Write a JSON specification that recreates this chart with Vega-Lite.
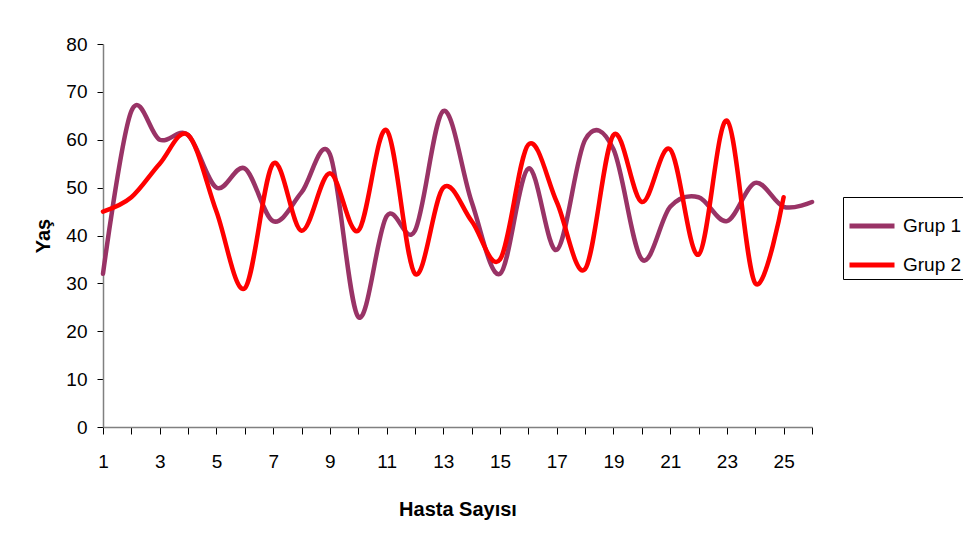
{
  "$schema": "https://vega.github.io/schema/vega-lite/v6.json",
  "autosize": {"type": "none"},
  "padding": {"left": 103, "top": 44, "right": 151, "bottom": 124},
  "width": 709,
  "height": 383,
  "background": "white",
  "data": {
    "values": [
      {"n": 1, "grup": "Grup 1", "yas": 32},
      {"n": 2, "grup": "Grup 1", "yas": 66},
      {"n": 3, "grup": "Grup 1", "yas": 60},
      {"n": 4, "grup": "Grup 1", "yas": 61},
      {"n": 5, "grup": "Grup 1", "yas": 50},
      {"n": 6, "grup": "Grup 1", "yas": 54},
      {"n": 7, "grup": "Grup 1", "yas": 43},
      {"n": 8, "grup": "Grup 1", "yas": 49},
      {"n": 9, "grup": "Grup 1", "yas": 57},
      {"n": 10, "grup": "Grup 1", "yas": 23},
      {"n": 11, "grup": "Grup 1", "yas": 44},
      {"n": 12, "grup": "Grup 1", "yas": 41},
      {"n": 13, "grup": "Grup 1", "yas": 66},
      {"n": 14, "grup": "Grup 1", "yas": 47},
      {"n": 15, "grup": "Grup 1", "yas": 32},
      {"n": 16, "grup": "Grup 1", "yas": 54},
      {"n": 17, "grup": "Grup 1", "yas": 37},
      {"n": 18, "grup": "Grup 1", "yas": 60},
      {"n": 19, "grup": "Grup 1", "yas": 58},
      {"n": 20, "grup": "Grup 1", "yas": 35},
      {"n": 21, "grup": "Grup 1", "yas": 46},
      {"n": 22, "grup": "Grup 1", "yas": 48},
      {"n": 23, "grup": "Grup 1", "yas": 43},
      {"n": 24, "grup": "Grup 1", "yas": 51},
      {"n": 25, "grup": "Grup 1", "yas": 46},
      {"n": 26, "grup": "Grup 1", "yas": 47},
      {"n": 1, "grup": "Grup 2", "yas": 45},
      {"n": 2, "grup": "Grup 2", "yas": 48},
      {"n": 3, "grup": "Grup 2", "yas": 55},
      {"n": 4, "grup": "Grup 2", "yas": 61},
      {"n": 5, "grup": "Grup 2", "yas": 45},
      {"n": 6, "grup": "Grup 2", "yas": 29},
      {"n": 7, "grup": "Grup 2", "yas": 55},
      {"n": 8, "grup": "Grup 2", "yas": 41},
      {"n": 9, "grup": "Grup 2", "yas": 53},
      {"n": 10, "grup": "Grup 2", "yas": 41},
      {"n": 11, "grup": "Grup 2", "yas": 62},
      {"n": 12, "grup": "Grup 2", "yas": 32},
      {"n": 13, "grup": "Grup 2", "yas": 50},
      {"n": 14, "grup": "Grup 2", "yas": 43},
      {"n": 15, "grup": "Grup 2", "yas": 35},
      {"n": 16, "grup": "Grup 2", "yas": 59},
      {"n": 17, "grup": "Grup 2", "yas": 47},
      {"n": 18, "grup": "Grup 2", "yas": 33},
      {"n": 19, "grup": "Grup 2", "yas": 61},
      {"n": 20, "grup": "Grup 2", "yas": 47},
      {"n": 21, "grup": "Grup 2", "yas": 58},
      {"n": 22, "grup": "Grup 2", "yas": 36},
      {"n": 23, "grup": "Grup 2", "yas": 64},
      {"n": 24, "grup": "Grup 2", "yas": 30},
      {"n": 25, "grup": "Grup 2", "yas": 48}
    ]
  },
  "mark": {
    "type": "line",
    "interpolate": "cardinal",
    "tension": 0,
    "strokeWidth": 4.5,
    "strokeCap": "round",
    "strokeJoin": "round"
  },
  "encoding": {
    "x": {
      "field": "n",
      "type": "quantitative",
      "scale": {"domain": [1, 26], "nice": false, "zero": false},
      "axis": {
        "title": "Hasta Sayısı",
        "values": [1, 2, 3, 4, 5, 6, 7, 8, 9, 10, 11, 12, 13, 14, 15, 16, 17, 18, 19, 20, 21, 22, 23, 24, 25, 26],
        "labelExpr": "datum.value % 2 == 1 ? datum.label : ''",
        "grid": false,
        "tickSize": 7,
        "labelPadding": 18,
        "titlePadding": 28,
        "labelFlush": false,
        "labelOverlap": false
      }
    },
    "y": {
      "field": "yas",
      "type": "quantitative",
      "scale": {"domain": [0, 80], "nice": false},
      "axis": {
        "title": "Yaş",
        "values": [0, 10, 20, 30, 40, 50, 60, 70, 80],
        "grid": false,
        "tickSize": 6,
        "labelPadding": 10,
        "titlePadding": 12
      }
    },
    "color": {
      "field": "grup",
      "type": "nominal",
      "scale": {"domain": ["Grup 1", "Grup 2"], "range": ["#993366", "#FF0000"]},
      "legend": {
        "title": null,
        "orient": "none",
        "legendX": 740,
        "legendY": 153,
        "symbolType": "stroke",
        "symbolSize": 2025,
        "symbolStrokeWidth": 5,
        "rowPadding": 4,
        "padding": 4,
        "strokeColor": "#000000",
        "labelFont": "Liberation Sans",
        "labelFontSize": 19,
        "labelColor": "#000000",
        "labelOffset": 6
      }
    }
  },
  "config": {
    "view": {"stroke": null},
    "axis": {
      "domainColor": "#808080",
      "domainWidth": 1.5,
      "tickColor": "#000000",
      "tickWidth": 1,
      "labelFont": "Liberation Sans",
      "labelFontSize": 19,
      "labelColor": "#000000",
      "titleFont": "Liberation Sans",
      "titleFontSize": 20,
      "titleFontWeight": "bold",
      "titleColor": "#000000"
    }
  }
}
